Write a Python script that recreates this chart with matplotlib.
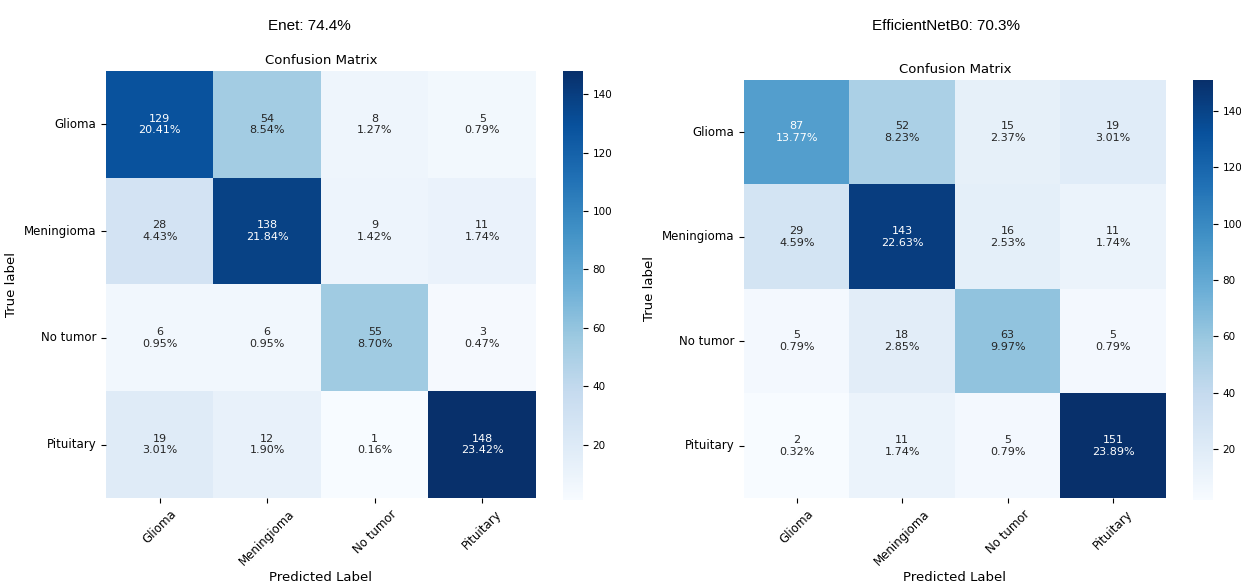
import numpy as np
import matplotlib
matplotlib.use("Agg")
import matplotlib.pyplot as plt
import seaborn as sns

classes = ["Glioma", "Meningioma", "No tumor", "Pituitary"]

# confusion matrices (rows = true, cols = predicted)
cm_enet = np.array([[129, 54, 8, 5],
                    [28, 138, 9, 11],
                    [6, 6, 55, 3],
                    [19, 12, 1, 148]])
cm_effnet = np.array([[87, 52, 15, 19],
                      [29, 143, 16, 11],
                      [5, 18, 63, 5],
                      [2, 11, 5, 151]])

acc_enet = 74.4
acc_effnet = 70.3

fig = plt.figure(figsize=(12.41, 5.86), dpi=100)


def draw_cm(cm, ax, cax):
    total = cm.sum()
    labels = np.array([[f"{v}\n{v / total * 100:.2f}%" for v in row] for row in cm])
    sns.heatmap(cm, annot=labels, fmt="", cmap="Blues", ax=ax, cbar_ax=cax,
                xticklabels=classes, yticklabels=classes,
                annot_kws={"fontsize": 8})
    ax.set_title("Confusion Matrix", fontsize=9.5, pad=5)
    ax.set_xlabel("Predicted Label", fontsize=9.5, labelpad=2)
    ax.set_ylabel("True label", fontsize=9.5, labelpad=4)
    ax.tick_params(axis="both", labelsize=8.5)
    plt.setp(ax.get_xticklabels(), rotation=45)
    plt.setp(ax.get_yticklabels(), rotation=0)
    cax.tick_params(labelsize=7.5)
    cax.set_yticks([20, 40, 60, 80, 100, 120, 140])


# left: Enet
ax1 = fig.add_axes([0.0854, 0.1502, 0.3465, 0.7287])
cax1 = fig.add_axes([0.4537, 0.1468, 0.0161, 0.732])
draw_cm(cm_enet, ax1, cax1)

# right: EfficientNetB0
ax2 = fig.add_axes([0.5995, 0.1502, 0.3400, 0.7133])
cax2 = fig.add_axes([0.9613, 0.1468, 0.0161, 0.7167])
draw_cm(cm_effnet, ax2, cax2)

fig.text(0.249, 0.955, f"Enet: {acc_enet}%", ha="center", va="center",
         fontsize=11, family="Liberation Sans")
fig.text(0.762, 0.955, f"EfficientNetB0: {acc_effnet}%", ha="center", va="center",
         fontsize=11, family="Liberation Sans")

fig.savefig("out.png", dpi=100)
